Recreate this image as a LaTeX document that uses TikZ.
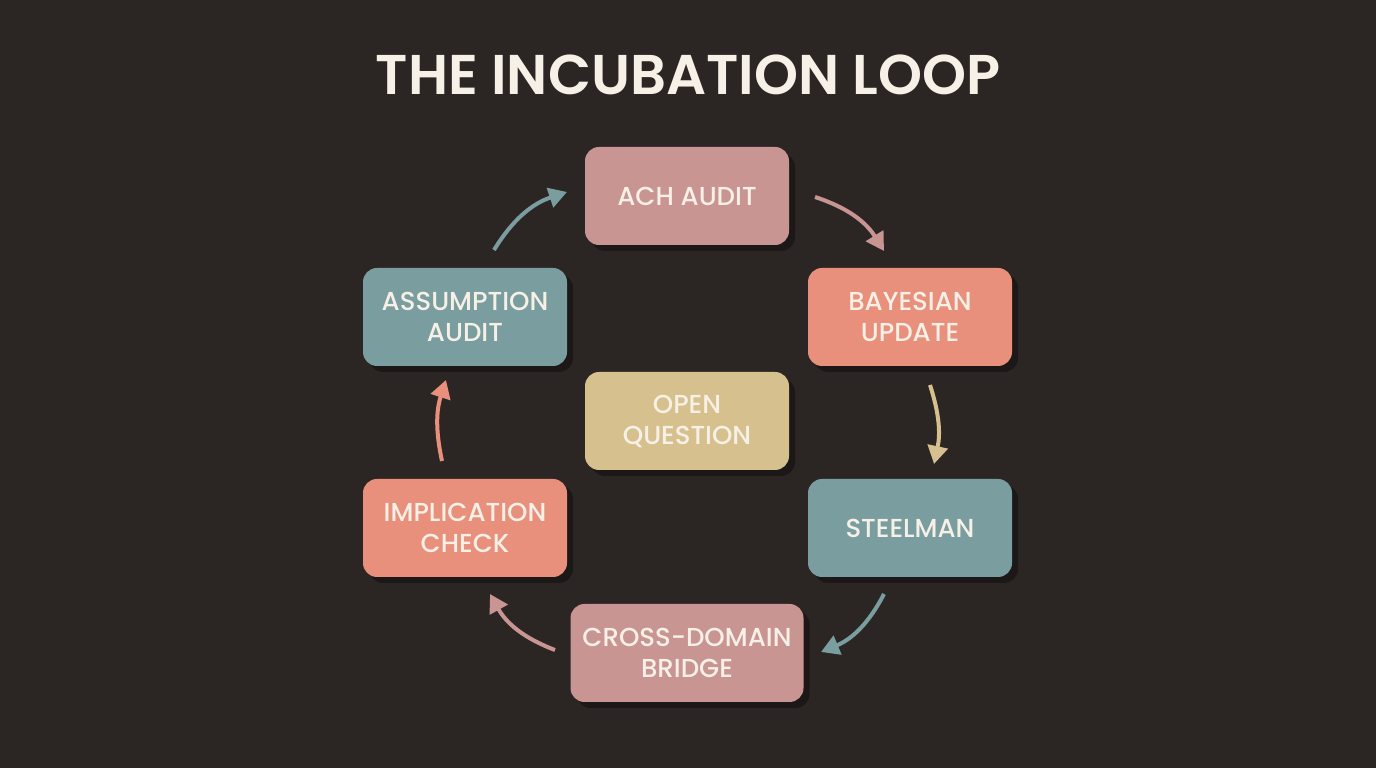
\documentclass[tikz,border=0pt]{standalone}
\usepackage{fontspec}
\setmainfont{Poppins}
\newfontfamily\pmed{Poppins Medium}
\newfontfamily\psemi{Poppins SemiBold}
\usetikzlibrary{arrows.meta,shadows}
\definecolor{bg}{HTML}{2B2624}
\definecolor{txt}{HTML}{F6F0E6}
\definecolor{rose}{HTML}{C99593}
\definecolor{coral}{HTML}{E8907C}
\definecolor{teal}{HTML}{7A9E9F}
\definecolor{tan}{HTML}{D6C08E}
\tikzset{
  x=1pt,y=1pt,
  box/.style={rounded corners=14pt, minimum width=204pt, minimum height=98pt,
    align=center, text=txt, font=\pmed\fontsize{26}{31}\selectfont,
    drop shadow={shadow xshift=6pt, shadow yshift=-6pt, fill=black, opacity=0.35}},
  arr/.style={line width=4pt, -{Triangle[width=20pt,length=18pt]}},
}
\begin{document}
\begin{tikzpicture}
\fill[bg] (0,0) rectangle (1376,768);
\useasboundingbox (0,0) rectangle (1376,768);
\node[text=txt, font=\psemi\fontsize{56}{60}\selectfont] (title) at (688,693) {THE INCUBATION LOOP};
\node[box, fill=rose] (ach) at (687,572) {ACH AUDIT};
\node[box, fill=coral] (bay) at (910,451) {BAYESIAN\\UPDATE};
\node[box, fill=teal] (steel) at (910,240) {STEELMAN};
\node[box, fill=rose, minimum width=233pt] (cross) at (687,115) {CROSS-DOMAIN\\BRIDGE};
\node[box, fill=coral] (impl) at (465,240) {IMPLICATION\\CHECK};
\node[box, fill=teal] (assu) at (465,451) {ASSUMPTION\\AUDIT};
\node[box, fill=tan] (open) at (687,347) {OPEN\\QUESTION};
\coordinate (a1) at (815,571); \coordinate (a2) at (884,517);
\coordinate (b1) at (930,383); \coordinate (b2) at (934,304);
\coordinate (c1) at (884,174); \coordinate (c2) at (821,116);
\coordinate (d1) at (555,118); \coordinate (d2) at (490,174);
\coordinate (e1) at (442,307); \coordinate (e2) at (446,388);
\coordinate (f1) at (494,518); \coordinate (f2) at (567,576);
\draw[arr, rose] (a1) to[bend left=20] (a2);
\draw[arr, tan] (b1) to[bend left=15] (b2);
\draw[arr, teal] (c1) to[bend left=20] (c2);
\draw[arr, rose] (d1) to[bend left=20] (d2);
\draw[arr, coral] (e1) to[bend left=15] (e2);
\draw[arr, teal] (f1) to[bend left=20] (f2);
\end{tikzpicture}
\end{document}
